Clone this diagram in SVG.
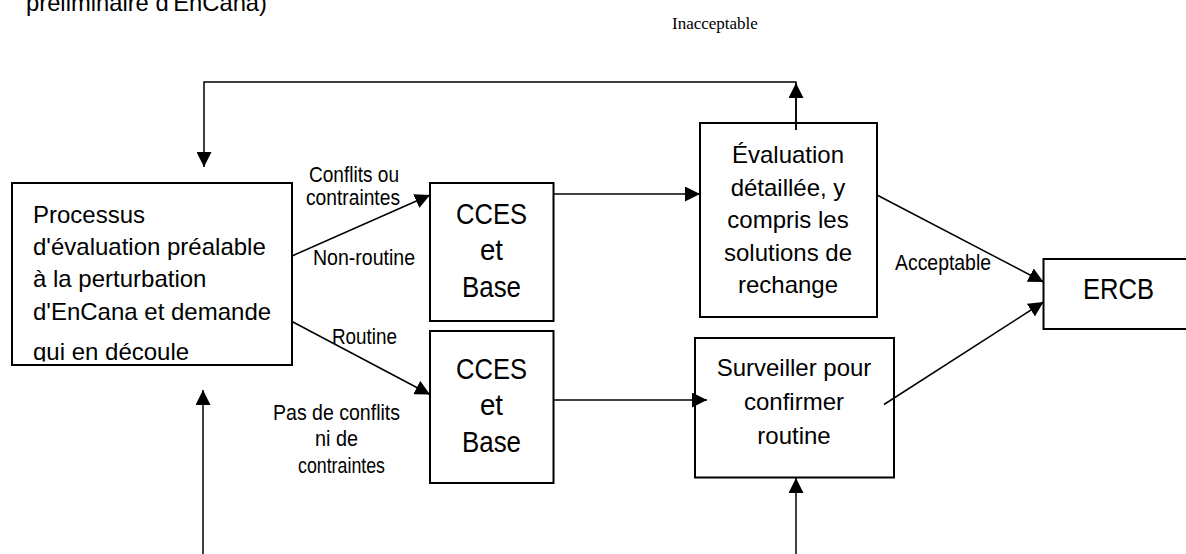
<svg xmlns="http://www.w3.org/2000/svg" width="1186" height="554" viewBox="0 0 1186 554">
<style>
.box{fill:none;stroke:#000;stroke-width:2}
.ln{fill:none;stroke:#000;stroke-width:1.5}
.t{font-family:"Liberation Sans",Arial,sans-serif;fill:#000}
.bt{font-size:24px}
.big{font-size:29px}
.lb{font-size:22px}
.serif{font-family:"Liberation Serif","Times New Roman",serif;font-size:17px;fill:#000}
</style>
<defs>
<marker id="ah" markerUnits="userSpaceOnUse" markerWidth="15" markerHeight="15" refX="15" refY="7.5" orient="auto">
<path d="M0,0 L15,7.5 L0,15 z" fill="#000"/>
</marker>
<clipPath id="c1"><rect x="12" y="183" width="280" height="178.5"/></clipPath>
</defs>
<text class="t bt" x="26" y="11" textLength="241" lengthAdjust="spacingAndGlyphs">préliminaire d'EnCana)</text>
<text class="serif" x="672" y="29">Inacceptable</text>

<g id="n1">
<rect class="box" x="12" y="183" width="280" height="182"/>
<g clip-path="url(#c1)" class="t bt">
<text x="33" y="223">Processus</text>
<text x="33" y="255">d'évaluation préalable</text>
<text x="33" y="287">à la perturbation</text>
<text x="33" y="319.5">d'EnCana et demande</text>
<text x="33" y="360">qui en découle</text>
</g>
</g>
<g id="n2">
<rect class="box" x="430" y="183" width="123.5" height="138"/>
<text class="t big" x="456" y="224" textLength="71" lengthAdjust="spacingAndGlyphs">CCES</text>
<text class="t big" x="480" y="260" textLength="23" lengthAdjust="spacingAndGlyphs">et</text>
<text class="t big" x="462" y="297" textLength="59" lengthAdjust="spacingAndGlyphs">Base</text>
</g>
<g id="n3">
<rect class="box" x="430" y="331" width="123.5" height="152"/>
<text class="t big" x="456" y="379" textLength="71" lengthAdjust="spacingAndGlyphs">CCES</text>
<text class="t big" x="480" y="415" textLength="23" lengthAdjust="spacingAndGlyphs">et</text>
<text class="t big" x="462" y="452" textLength="59" lengthAdjust="spacingAndGlyphs">Base</text>
</g>
<g id="n4">
<rect class="box" x="700" y="123" width="177" height="194"/>
<g class="t bt" text-anchor="middle">
<text x="788" y="163">Évaluation</text>
<text x="788" y="195.5">détaillée, y</text>
<text x="788" y="228">compris les</text>
<text x="788" y="260.5">solutions de</text>
<text x="788" y="293">rechange</text>
</g>
</g>
<g id="n5">
<rect class="box" x="695" y="338" width="199" height="139.5"/>
<g class="t bt" text-anchor="middle">
<text x="794" y="376">Surveiller pour</text>
<text x="794" y="410">confirmer</text>
<text x="794" y="444">routine</text>
</g>
</g>
<g id="n6">
<rect class="box" x="1043.5" y="259" width="150" height="70"/>
<text class="t big" x="1083" y="299" textLength="71" lengthAdjust="spacingAndGlyphs">ERCB</text>
</g>

<g id="connectors">
<polyline class="ln" points="796,130 796,82 204,82 204,167" marker-end="url(#ah)"/>
<path class="ln" d="M796,130 V83" marker-end="url(#ah)"/>
<path class="ln" d="M292,256 L430,195" marker-end="url(#ah)"/>
<path class="ln" d="M292,321.5 L430,394.5" marker-end="url(#ah)"/>
<path class="ln" d="M553.5,194 H700" marker-end="url(#ah)"/>
<path class="ln" d="M553.5,400 H707" marker-end="url(#ah)"/>
<path class="ln" d="M877,195 L1043.5,282" marker-end="url(#ah)"/>
<path class="ln" d="M884,404.5 L1043.5,302" marker-end="url(#ah)"/>
<path class="ln" d="M203,554 V390" marker-end="url(#ah)"/>
<path class="ln" d="M796,554 V478" marker-end="url(#ah)"/>
</g>
<g id="labels" class="t lb">
<text x="309" y="182" textLength="90" lengthAdjust="spacingAndGlyphs">Conflits ou</text>
<text x="306" y="205" textLength="94" lengthAdjust="spacingAndGlyphs">contraintes</text>
<text x="313" y="265" textLength="102" lengthAdjust="spacingAndGlyphs">Non-routine</text>
<text x="332" y="344" textLength="65" lengthAdjust="spacingAndGlyphs">Routine</text>
<text x="273" y="420" textLength="127" lengthAdjust="spacingAndGlyphs">Pas de conflits</text>
<text x="315" y="446" textLength="43" lengthAdjust="spacingAndGlyphs">ni de</text>
<text x="298" y="473" textLength="87" lengthAdjust="spacingAndGlyphs">contraintes</text>
<text x="895" y="270" textLength="96" lengthAdjust="spacingAndGlyphs">Acceptable</text>
</g>
</svg>
